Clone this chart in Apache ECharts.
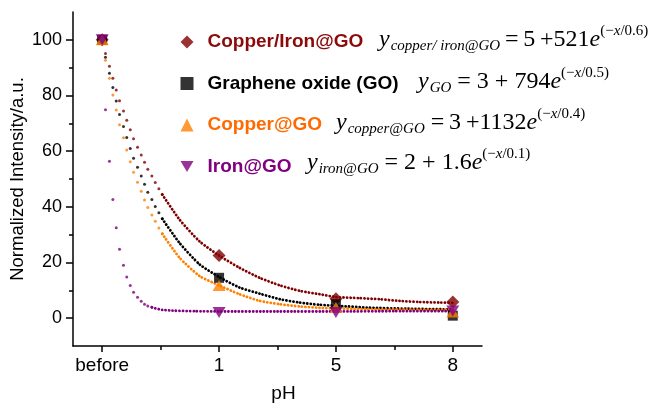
<!DOCTYPE html>
<html><head><meta charset="utf-8">
<script src="https://cdn.jsdelivr.net/npm/echarts@6/dist/echarts.min.js"></script>
<style>html,body{margin:0;padding:0;background:#fff}#c{width:653px;height:405px}</style>
</head><body><div id="c"></div>
<script>
// ---- data ----
const categories = ['before', '1', '5', '8'];
const seriesNames = ['Copper/Iron@GO', 'Graphene oxide (GO)', 'Copper@GO', 'Iron@GO'];
const copperIronPts = [100, 22.5, 7.0, 5.8];
const goPts = [100, 14.5, 5.0, 0.9];
const copperPts = [100, 11.7, 3.8, 2.2];
const ironPts = [100, 2.0, 2.0, 2.6];

const yTicks = [0, 20, 40, 60, 80, 100];
const yMinorTicks = [10, 30, 50, 70, 90];
const xTicks = [0, 1, 2, 3];
const xMinorTicks = [0.5, 1.5, 2.5];

// fitted curves (x in category-index units), sparse dotted head part
const headX = [0.028, 0.062, 0.091, 0.12, 0.148, 0.182, 0.21, 0.24, 0.268, 0.302, 0.334, 0.362, 0.39, 0.425, 0.454, 0.485, 0.514];
const copperIronHeadY = [95.1, 90.5, 86.2, 82.0, 78.1, 74.4, 71.1, 67.7, 64.5, 61.4, 58.6, 56.0, 53.5, 51.1, 48.7, 46.5, 44.4];
const goHeadY = [93.7, 88.0, 82.9, 78.0, 73.2, 68.9, 64.9, 61.0, 57.5, 54.2, 51.1, 48.1, 45.2, 42.6, 40.1, 37.9, 35.7];
const copperHeadY = [92.7, 86.2, 80.2, 74.8, 69.5, 64.8, 60.4, 56.2, 52.4, 48.8, 45.6, 42.5, 39.8, 37.1, 34.8, 32.4, 30.3];
const ironHeadY = [74.9, 56.4, 42.6, 32.5, 24.8, 19.0, 14.8, 11.7, 9.3, 7.5, 6.1, 5.0, 4.4, 3.9];

// dense dotted tail part
const copperIronTailX = [0.514, 0.662, 0.833, 1.0, 1.175, 1.347, 1.518, 1.69, 1.86, 2.0, 2.2, 2.374, 2.545, 2.717, 2.9, 3.0];
const copperIronTailY = [44.4, 35.4, 27.6, 22.5, 18.1, 14.5, 11.8, 9.8, 8.6, 7.6, 7.2, 6.8, 6.2, 5.8, 5.6, 5.5];
const goTailX = [0.514, 0.662, 0.834, 1.0, 1.175, 1.348, 1.52, 1.69, 1.86, 2.03, 2.27, 2.6, 2.9, 3.0];
const goTailY = [35.7, 27.0, 19.3, 14.8, 11.0, 8.8, 6.8, 5.6, 4.8, 4.4, 3.8, 3.4, 3.2, 3.1];
const copperTailX = [0.514, 0.662, 0.834, 1.0, 1.175, 1.348, 1.52, 1.69, 1.86, 2.27, 2.6, 3.0];
const copperTailY = [30.3, 21.7, 15.1, 11.8, 8.6, 6.2, 5.0, 4.2, 3.7, 3.2, 3.1, 3.0];
const ironTailX = [0.425, 0.455, 0.485, 0.514, 0.6, 0.8, 1.0, 1.5, 2.0, 2.5, 3.0];
const ironTailY = [3.9, 3.5, 3.2, 3.0, 2.7, 2.5, 2.4, 2.4, 2.4, 2.5, 2.5];

const formulas = [
  { sub: 'copper/ iron@GO', eq: '\u2009=\u20095\u2009+521', sup: '/0.6)' },
  { sub: 'GO', eq: ' = 3 + 794', sup: '/0.5)' },
  { sub: 'copper@GO', eq: ' =\u20093\u2009+1132', sup: '/0.4)' },
  { sub: 'iron@GO', eq: ' = 2 + 1.6', sup: '/0.1)' }
];

// ---- styling ----
const colors = ['#800000', '#000000', '#FF8000', '#800080'];
const textColors = ['#8B0A0A', '#000000', '#FF6A00', '#800080'];
const symbols = ['diamond', 'rect', 'triangle', 'path://M0,0L2,0L1,1.7Z'];
const symbolSizes = [[13, 13], [10, 10], [13, 11], [13, 11]];
const formulaStartX = [379, 418, 336, 307];
const formulaBase = [47, 89, 130, 170];

const zip = (xs, ys) => ys.map((y, i) => [xs[i], y]);
const markerData = [copperIronPts, goPts, copperPts, ironPts];
const heads = [copperIronHeadY, goHeadY, copperHeadY, ironHeadY];
const tails = [[copperIronTailX, copperIronTailY], [goTailX, goTailY], [copperTailX, copperTailY], [ironTailX, ironTailY]];

const series = [];
tails.forEach((t, i) => {
  series.push({
    name: 'fit' + i, type: 'line', data: zip(t[0], t[1]), showSymbol: false,
    smooth: 0.2, silent: true, z: 2,
    lineStyle: { color: colors[i], width: 2.8, type: [0.1, 3.4], cap: 'round' }
  });
  series.push({
    name: 'head' + i, type: 'scatter', data: zip(headX, heads[i]), symbol: 'circle',
    symbolSize: 3, silent: true, z: 2, itemStyle: { color: colors[i] }
  });
});
markerData.forEach((d, i) => {
  series.push({
    name: seriesNames[i], type: 'scatter', data: d.map((v, k) => [k, v]),
    symbol: symbols[i], symbolSize: symbolSizes[i], z: 5,
    itemStyle: { color: colors[i] }
  });
});

// formula graphics
const cv = document.createElement('canvas').getContext('2d');
function w(text, size, italic) {
  cv.font = (italic ? 'italic ' : '') + size + 'px "Liberation Serif"';
  return cv.measureText(text).width;
}
const graphic = [];
formulas.forEach((f, i) => {
  let x = formulaStartX[i];
  const b = formulaBase[i];
  const pieces = [
    { t: 'y', s: 24, it: true, dy: 0 },
    { t: f.sub, s: 15, it: true, dy: 4 },
    { t: f.eq, s: 24, it: false, dy: 0 },
    { t: 'e', s: 24, it: true, dy: 0 },
    { t: '(\u2212', s: 15, it: false, dy: -11 },
    { t: 'x', s: 15, it: true, dy: -11 },
    { t: f.sup, s: 15, it: false, dy: -11 }
  ];
  pieces.forEach(p => {
    graphic.push({
      type: 'text', x: x, y: b + p.dy - 0.3 * p.s, silent: true,
      style: {
        text: p.t, fill: '#000', fontFamily: 'Liberation Serif', fontSize: p.s,
        fontStyle: p.it ? 'italic' : 'normal', verticalAlign: 'middle', align: 'left'
      }
    });
    x += w(p.t, p.s, p.it) + (p.t === 'y' ? 1 : 0);
  });
});

const lineBlack = { color: '#000', width: 1.5 };
const chart = echarts.init(document.getElementById('c'));
chart.setOption({
  animation: false,
  backgroundColor: '#fff',
  grid: { left: 73, right: 171, top: 12, bottom: 59, containLabel: false, outerBoundsMode: 'none' },
  legend: {
    orient: 'vertical', left: 180.5, top: 31, padding: 0, itemWidth: 13, itemHeight: 13, itemGap: 19.5,
    selectedMode: false,
    textStyle: { fontFamily: 'Liberation Sans', fontWeight: 'bold', fontSize: 19, lineHeight: 22, padding: [0, 0, 0, 9] },
    data: seriesNames.map((n, i) => ({ name: n, textStyle: { color: textColors[i] } }))
  },
  xAxis: [{
    type: 'value', min: -0.25, max: 3.25, position: 'bottom',
    axisLine: { show: true, onZero: false, lineStyle: lineBlack },
    axisTick: { show: true, customValues: xTicks, length: 6, lineStyle: lineBlack },
    axisLabel: { customValues: xTicks, formatter: v => categories[Math.round(v)], fontFamily: 'Liberation Sans', fontSize: 19, color: '#000', margin: 10 },
    splitLine: { show: false },
    name: 'pH', nameLocation: 'middle', nameGap: 38, nameMoveOverlap: false,
    nameTextStyle: { fontFamily: 'Liberation Sans', fontSize: 19, color: '#000', padding: [0, 0, 0, 12] }
  }, {
    type: 'value', min: -0.25, max: 3.25, position: 'bottom',
    axisLine: { show: false, onZero: false },
    axisTick: { show: true, customValues: xMinorTicks, length: 4, lineStyle: lineBlack },
    axisLabel: { show: false }, splitLine: { show: false }
  }],
  yAxis: [{
    type: 'value', min: -10, max: 110, position: 'left',
    axisLine: { show: true, onZero: false, lineStyle: lineBlack },
    axisTick: { show: true, customValues: yTicks, length: 7, lineStyle: lineBlack },
    axisLabel: { customValues: yTicks, fontFamily: 'Liberation Sans', fontSize: 18, color: '#000', margin: 11 },
    splitLine: { show: false },
    name: 'Normalized Intensity/a.u.', nameLocation: 'middle', nameGap: 46, nameMoveOverlap: false,
    nameTextStyle: { fontFamily: 'Liberation Sans', fontSize: 18.5, color: '#000' }
  }, {
    type: 'value', min: -10, max: 110, position: 'left', offset: 0,
    axisLine: { show: false, onZero: false },
    axisTick: { show: true, customValues: yMinorTicks, length: 4, lineStyle: lineBlack },
    axisLabel: { show: false }, splitLine: { show: false }
  }],
  series: series,
  graphic: graphic
});
</script></body></html>
